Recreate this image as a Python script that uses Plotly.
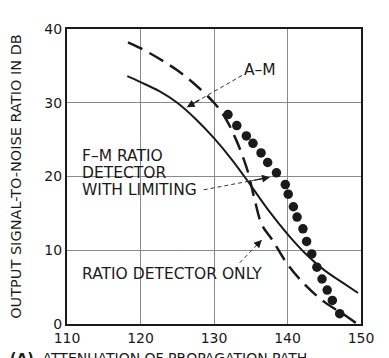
import plotly.graph_objects as go

# ---- data ----
x_ticks = [110, 120, 130, 140, 150]
y_ticks = [0, 10, 20, 30, 40]

# A-M (solid)
am_x = [118.2, 120, 122.5, 125, 127.5, 130, 132.5, 135, 137.5, 140, 142.5, 145, 147.5, 149.6]
am_y = [33.6, 32.8, 31.6, 30.0, 27.8, 25.2, 22.2, 18.8, 15.3, 12.2, 9.5, 7.3, 5.6, 4.2]

# Ratio detector only (dashed)
rd_x = [118.3, 120, 122.5, 125, 127.5, 130, 131.5, 133, 134.5, 135.5, 136.5, 138, 140, 142.5, 145, 147.5, 149.5]
rd_y = [38.2, 37.4, 36.0, 34.4, 32.4, 30.0, 28.0, 25.0, 21.0, 17.0, 13.5, 11.3, 8.1, 5.2, 3.0, 1.4, 0.0]

# F-M ratio detector with limiting (dots)
fm_x = [131.9, 133.1, 134.4, 135.3, 136.4, 137.3, 138.5, 139.7, 140.1, 140.8, 141.3, 142.1, 142.6, 143.3, 144.0, 144.7, 145.4, 146.1, 147.1]
fm_y = [28.4, 26.9, 25.5, 24.5, 23.2, 21.9, 20.5, 18.9, 17.6, 15.9, 14.5, 12.9, 11.2, 9.5, 7.7, 6.1, 4.6, 3.2, 1.4]

fm_label_lines = ["F\u2013M RATIO", "DETECTOR", "WITH LIMITING"]
fm_label_y = [22.8, 20.5, 18.2]

FONT = "DejaVu Sans"
INK = "#1a1a1a"

W, H = 381, 350          # page body has an 8px margin
ML, MR, MT, MB = 59, 28, 21, 34
PW, PH = W - ML - MR, H - MT - MB

fig = go.Figure()
fig.add_trace(go.Scatter(x=am_x, y=am_y, mode="lines", line=dict(color=INK, width=2, shape="spline"),
                         showlegend=False, hoverinfo="skip"))
fig.add_trace(go.Scatter(x=rd_x, y=rd_y, mode="lines",
                         line=dict(color=INK, width=2.5, dash="16px,8px", shape="spline"),
                         showlegend=False, hoverinfo="skip"))
fig.add_trace(go.Scatter(x=fm_x, y=fm_y, mode="markers", marker=dict(color=INK, size=9.5),
                         showlegend=False, hoverinfo="skip"))

# dashed leader lines (label -> curve)
leaders = [
    ((133.8, 33.7), (126.3, 29.4)),   # A-M
    ((128.6, 18.2), (137.6, 19.9)),   # F-M ratio detector with limiting
    ((133.5, 8.3), (136.5, 11.4)),    # Ratio detector only
]
for (x0, y0), (x1, y1) in leaders:
    fig.add_shape(type="line", x0=x0, y0=y0, x1=x1, y1=y1, xref="x", yref="y",
                  line=dict(color="#333", width=1, dash="4px,3px"))
    fig.add_annotation(x=x1, y=y1, ax=x1 - (x1 - x0) * 0.25, ay=y1 - (y1 - y0) * 0.25,
                       xref="x", yref="y", axref="x", ayref="y", text="", showarrow=True,
                       arrowhead=2, arrowsize=1.3, arrowwidth=1.2, arrowcolor=INK)

label_font = dict(family=FONT, size=15.5, color=INK)
fig.add_annotation(x=136.2, y=34.4, text="A\u2013M", showarrow=False, font=label_font,
                   xref="x", yref="y")
for txt, yy in zip(fm_label_lines, fm_label_y):
    fig.add_annotation(x=111.7, y=yy, text=txt, showarrow=False, font=label_font,
                       xref="x", yref="y", xanchor="left", yanchor="middle")
fig.add_annotation(x=111.7, y=6.8, text="RATIO DETECTOR ONLY", showarrow=False,
                   font=label_font, xref="x", yref="y", xanchor="left", yanchor="middle")

# caption (cut off at the bottom in the original)
fig.add_annotation(x=(0 - ML) / PW, y=-(340 - (H - MB)) / PH, xref="paper", yref="paper",
                   xanchor="left", yanchor="top",
                   text="<b>(A)</b>  ATTENUATION OF PROPAGATION PATH", showarrow=False,
                   font=dict(family=FONT, size=14, color=INK))

# scan frame bar at right edge
fig.add_shape(type="line", xref="paper", yref="paper", x0=1 + 26 / PW, x1=1 + 26 / PW,
              y0=-MB / PH, y1=(H - MB - 257) / PH, line=dict(color="#222", width=2))

fig.update_xaxes(range=[110, 150], tickvals=x_ticks, ticktext=[str(v) for v in x_ticks],
                 showgrid=True, gridcolor="#8a8a8a", gridwidth=1,
                 showline=True, linecolor=INK, linewidth=2, mirror=True, automargin=False,
                 ticks="", tickfont=dict(family=FONT, size=14, color=INK), zeroline=False)
fig.update_yaxes(range=[0, 40], tickvals=y_ticks, ticktext=[str(v) for v in y_ticks],
                 showgrid=True, gridcolor="#8a8a8a", gridwidth=1,
                 showline=True, linecolor=INK, linewidth=2, mirror=True, automargin=False,
                 ticks="", tickfont=dict(family=FONT, size=14, color=INK), zeroline=False,
                 title=dict(text="OUTPUT SIGNAL-TO-NOISE RATIO IN DB", standoff=21,
                            font=dict(family=FONT, size=14.5, color=INK)))

fig.update_layout(width=W, height=H, margin=dict(l=ML, r=MR, t=MT, b=MB),
                  paper_bgcolor="white", plot_bgcolor="white", showlegend=False)

fig.write_html("out.html")
